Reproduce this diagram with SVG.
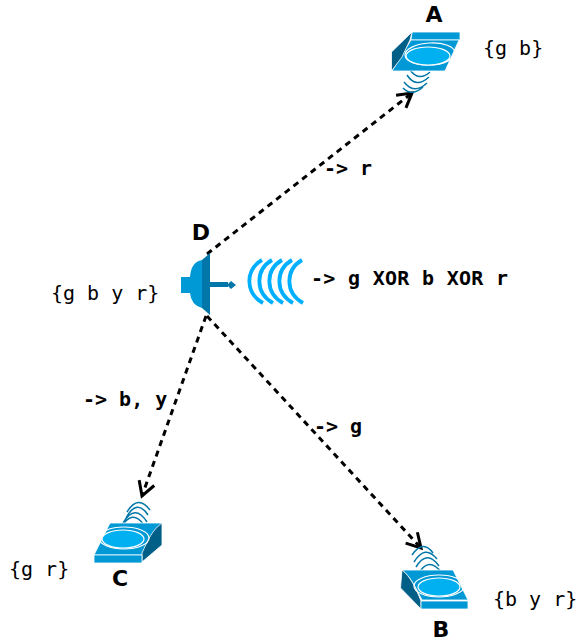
<svg xmlns="http://www.w3.org/2000/svg" width="577" height="644" viewBox="0 0 577 644">
<style>
.mono{font-family:"DejaVu Sans Mono",monospace;font-size:20px;fill:#000}
.b{font-weight:bold}
.name{font-family:"DejaVu Sans",sans-serif;font-weight:bold;font-size:22px;fill:#000;text-anchor:middle}
.edge{fill:none;stroke:#000;stroke-width:3;stroke-dasharray:6 5}
.head{fill:none;stroke:#000;stroke-width:3}
.top{fill:#0099d6;stroke:#fff;stroke-width:.8}
.side{fill:#005f87;stroke:#fff;stroke-width:.8}
.ring{fill:none;stroke:#fff;stroke-width:1.2}
.disc{fill:#00b0f0;stroke:#fff;stroke-width:1.2}
.wave{fill:none;stroke:#0077a8;stroke-width:1.5}
.radio{fill:none;stroke:#00b0ff;stroke-width:3.8}
</style>
<defs>
<marker id="arrow" markerWidth="20" markerHeight="20" refX="16" refY="10" orient="auto" markerUnits="userSpaceOnUse"><path class="head" d="M2 2L16 10L2 18"/></marker>
</defs>
<g id="connectors">
<path class="edge" d="M207 254L412 93" marker-end="url(#arrow)"/>
<path class="edge" d="M206 316L142 496" marker-end="url(#arrow)"/>
<path class="edge" d="M207 316L421 548" marker-end="url(#arrow)"/>
</g>
<g id="node-A">
<path class="wave" d="M410 70Q419 82 430 72M407 75Q416 89 429 77M404 82Q414 95 427 83M403 88Q412 97 423 87"/>
<path class="top" d="M412 32H460V40H411Z"/>
<path class="top" d="M411 40H459L445 71H392Z"/>
<path class="side" d="M412 32L391.500 52V71L402 57L410 40Z"/>
<ellipse class="ring" cx="430" cy="54" rx="25" ry="11" transform="rotate(-3 430 54)"/>
<ellipse class="disc" cx="428" cy="56" rx="22" ry="9"/>
<text class="name" x="434" y="22">A</text>
</g>
<g id="node-D">
<path d="M181 277H190Q191 262 202 260V308Q191 305 190 293H181Z" fill="#0099d6"/>
<path d="M202 260L210 253V315L202 308Z" fill="#0077a8"/>
<path d="M210 282H228V287H210Z" fill="#0077a8"/>
<path d="M227 285L231 281L236 285L231 289Z" fill="#0077a8"/>
<path class="radio" d="M262 260C245 270 245 293 263 303M272 260C255 270 255 293 273 303M282 260C265 270 265 293 283 303M292 260C275 270 275 293 293 303M302 260C285 270 285 293 303 303"/>
<text class="name" x="201" y="240">D</text>
</g>
<g id="node-C">
<path class="wave" d="M127 512Q138 494 150 510M126 518Q137 498 148 515M123 523Q135 503 147 522M121 528Q132 508 144 525"/>
<path class="top" d="M110 523H162L143 555H94Z"/>
<path class="side" d="M162 523V545L142 562V553C148 540 152 530 162 523Z"/>
<path class="top" d="M94 555H142V563H94Z"/>
<ellipse class="ring" cx="124" cy="538" rx="25" ry="11"/>
<ellipse class="disc" cx="123" cy="539" rx="21" ry="9"/>
<text class="name" x="120" y="586">C</text>
</g>
<g id="node-B">
<path class="wave" d="M412 555Q423 539 433 553M414 562Q425 544 437 559M416 567Q427 549 439 566M418 575Q428 555 442 573"/>
<path class="top" d="M402 570H453L468 600H422C416 588 410 576 402 570Z"/>
<path class="side" d="M402 570L400.500 588L421 609V601C416 588 410 576 402 570Z"/>
<path class="top" d="M421 601H468V609H421Z"/>
<ellipse class="ring" cx="439" cy="586" rx="25" ry="11"/>
<ellipse class="disc" cx="439" cy="587" rx="21" ry="9"/>
<text class="name" x="441" y="637">B</text>
</g>
<g id="labels">
<text class="mono" x="483" y="55">{g b}</text>
<text class="mono" x="51" y="300">{g b y r}</text>
<text class="mono" x="9" y="576">{g r}</text>
<text class="mono" x="493" y="606">{b y r}</text>
<text class="mono b" x="324" y="175">-&gt; r</text>
<text class="mono b" x="311" y="285" textLength="197">-&gt; g XOR b XOR r</text>
<text class="mono b" x="83" y="406">-&gt; b, y</text>
<text class="mono b" x="314" y="433">-&gt; g</text>
</g>
</svg>
